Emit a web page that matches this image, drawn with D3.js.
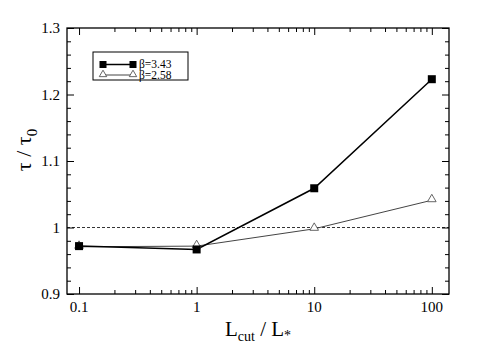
<!DOCTYPE html>
<html>
<head>
<meta charset="utf-8">
<script src="https://cdn.jsdelivr.net/npm/d3@7"></script>
<style>
  body { margin: 0; background: #fff; }
</style>
</head>
<body>
<div id="chart"></div>
<script>
// L_cut / L_* values
const lcut = [0.1, 1, 10, 100];
// tau / tau_0 for each beta
const beta343 = [0.972, 0.967, 1.059, 1.223];
const beta258 = [0.971, 0.972, 0.998, 1.041];
const seriesNames = ["β=3.43", "β=2.58"];
const xTickValues = [0.1, 1, 10, 100];
const xTickLabels = ["0.1", "1", "10", "100"];
const yTickValues = [0.9, 1.0, 1.1, 1.2, 1.3];
const yTickLabels = ["0.9", "1", "1.1", "1.2", "1.3"];

const W = 485, H = 346;
const margin = { top: 28, right: 36, bottom: 52, left: 67 },
  width = W - margin.left - margin.right,
  height = H - margin.top - margin.bottom;

const svg = d3.select("#chart").append("svg")
  .attr("width", W).attr("height", H)
  .attr("font-family", "'Liberation Serif', 'Times New Roman', Times, serif");

const x = d3.scaleLog().domain([0.079, 140]).range([0, width]);
const y = d3.scaleLinear().domain([0.9, 1.3]).range([height, 0]);

const g = svg.append("g").attr("transform", `translate(${margin.left},${margin.top})`);

// minor/major ticks, drawn inward on all four sides
const xMinor = [];
[0.1, 1, 10].forEach(d => { for (let k = 2; k <= 9; k++) xMinor.push(d * k); });
const yMinor = d3.range(0.92, 1.3, 0.02).filter(v => Math.abs(v * 10 - Math.round(v * 10)) > 1e-6);

function tickAxis(axisFn, scale, vals, size, tr) {
  g.append("g").attr("transform", tr)
    .call(axisFn(scale).tickValues(vals).tickSize(size).tickFormat(""))
    .call(a => a.select(".domain").remove())
    .call(a => a.selectAll("line").attr("stroke", "#000").attr("stroke-width", 1));
}
tickAxis(d3.axisTop, x, xTickValues, 7, `translate(0,${height})`);
tickAxis(d3.axisTop, x, xMinor, 4, `translate(0,${height})`);
tickAxis(d3.axisBottom, x, xTickValues, 7, "translate(0,0)");
tickAxis(d3.axisBottom, x, xMinor, 4, "translate(0,0)");
tickAxis(d3.axisRight, y, yTickValues, 7, "translate(0,0)");
tickAxis(d3.axisRight, y, yMinor, 4, "translate(0,0)");
tickAxis(d3.axisLeft, y, yTickValues, 7, `translate(${width},0)`);
tickAxis(d3.axisLeft, y, yMinor, 4, `translate(${width},0)`);

// tick labels
g.selectAll(".xl").data(xTickValues).enter().append("text")
  .attr("x", d => x(d)).attr("y", height + 18)
  .attr("text-anchor", "middle").attr("font-size", 15)
  .text((d, i) => xTickLabels[i]);
g.selectAll(".yl").data(yTickValues).enter().append("text")
  .attr("x", -7).attr("y", d => y(d) + 5)
  .attr("text-anchor", "end").attr("font-size", 15)
  .text((d, i) => yTickLabels[i]);

// frame
g.append("rect").attr("width", width).attr("height", height)
  .attr("fill", "none").attr("stroke", "#000").attr("stroke-width", 1.3);

// reference line at 1
g.append("line")
  .attr("x1", 0).attr("x2", width).attr("y1", y(1)).attr("y2", y(1))
  .attr("stroke", "#000").attr("stroke-width", 0.8).attr("stroke-dasharray", "3,2");

const line = d3.line().x(d => x(d[0])).y(d => y(d[1]));
const d258 = lcut.map((v, i) => [v, beta258[i]]);
const d343 = lcut.map((v, i) => [v, beta343[i]]);

g.append("path").datum(d258).attr("d", line)
  .attr("fill", "none").attr("stroke", "#444").attr("stroke-width", 1);
g.append("path").datum(d343).attr("d", line)
  .attr("fill", "none").attr("stroke", "#000").attr("stroke-width", 1.5);

const tri = d3.symbol().type(d3.symbolTriangle).size(32);
g.selectAll(".tri").data(d258).enter().append("path")
  .attr("d", tri).attr("transform", d => `translate(${x(d[0])},${y(d[1]) - 1})`)
  .attr("fill", "#fff").attr("stroke", "#555").attr("stroke-width", 0.9);
g.selectAll(".sq").data(d343).enter().append("rect")
  .attr("x", d => x(d[0]) - 4).attr("y", d => y(d[1]) - 4)
  .attr("width", 8).attr("height", 8).attr("fill", "#000");

// legend
const lg = svg.append("g").attr("transform", "translate(93,52)");
lg.append("rect").attr("width", 95).attr("height", 28)
  .attr("fill", "#fff").attr("stroke", "#000").attr("stroke-width", 1);
[0, 1].forEach(i => {
  const yy = 12.5 + i * 10.5;
  lg.append("line").attr("x1", 10).attr("x2", 40).attr("y1", yy).attr("y2", yy)
    .attr("stroke", i === 0 ? "#000" : "#444").attr("stroke-width", i === 0 ? 1.5 : 1);
  [10, 40].forEach(px => {
    if (i === 0) {
      lg.append("rect").attr("x", px - 3.5).attr("y", yy - 3.5).attr("width", 7).attr("height", 7).attr("fill", "#000");
    } else {
      lg.append("path").attr("d", d3.symbol().type(d3.symbolTriangle).size(24))
        .attr("transform", `translate(${px},${yy - 0.5})`)
        .attr("fill", "#fff").attr("stroke", "#555").attr("stroke-width", 0.9);
    }
  });
  lg.append("text").attr("x", 46).attr("y", yy + 3.5).attr("font-size", 11.5).text(seriesNames[i]);
});

// axis titles
const xt = svg.append("text").attr("x", margin.left + width / 2).attr("y", 336)
  .attr("text-anchor", "middle").attr("font-size", 21);
xt.append("tspan").text("L");
xt.append("tspan").attr("dy", 5).attr("font-size", 14).text("cut");
xt.append("tspan").attr("dy", -5).text(" / L");
xt.append("tspan").attr("dy", 4).attr("font-size", 14).text("*");

const yt = svg.append("text").attr("transform", "translate(31,150) rotate(-90)")
  .attr("text-anchor", "middle").attr("font-size", 22);
yt.append("tspan").text("τ / τ");
yt.append("tspan").attr("dy", 6).attr("font-size", 15).text("0");
</script>
</body>
</html>
